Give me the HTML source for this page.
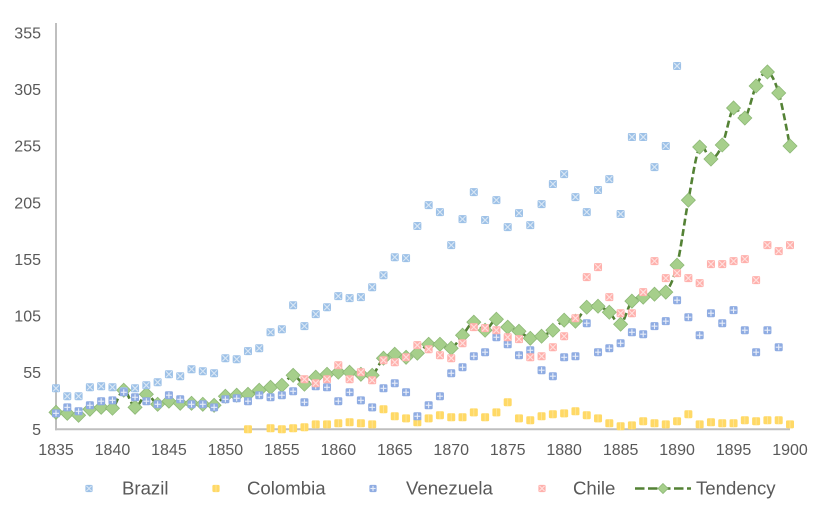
<!DOCTYPE html>
<html lang="en">
<head>
<meta charset="utf-8">
<title>Chart</title>
<style>
html,body{margin:0;padding:0;background:#fff;}
svg{display:block;}
text{font-family:"Liberation Sans",sans-serif;font-size:16px;fill:#595959;}
#legend text{font-size:18.6px;}
</style>
</head>
<body>
<svg id="chart" width="832" height="517" viewBox="0 0 832 517" xmlns="http://www.w3.org/2000/svg">
<rect x="0" y="0" width="832" height="517" fill="#ffffff"/>
<g id="axes"></g>
<g id="tendency-layer"></g>
<g id="points-layer"></g>
<g id="legend">
<text x="122" y="494.5">Brazil</text>
<text x="247" y="494.5">Colombia</text>
<text x="406" y="494.5">Venezuela</text>
<text x="573" y="494.5">Chile</text>
<text x="696" y="494.5">Tendency</text>
<line x1="635" y1="488.5" x2="691" y2="488.5" stroke="#548235" stroke-width="2.4" stroke-dasharray="9.5,3.5"/>
</g>
</svg>
<script>
const firstYear = 1835;
const lastYear = 1900;
const yTicks = [5, 55, 105, 155, 205, 255, 305, 355];
const xTicks = [1835, 1840, 1845, 1850, 1855, 1860, 1865, 1870, 1875, 1880, 1885, 1890, 1895, 1900];

// Brazil: 1835 to 1890
const brazilStart = 1835;
const brazil = [41.2,34.2,34.2,42.1,43,42.1,38.6,41.2,43.9,46.5,53.6,51.9,58,56.3,54.5,67.8,66.9,74,76.6,90.7,93.4,114.6,96.1,106.7,112.8,122.6,120.8,121.7,130.5,141.1,157,156.2,184.5,203,196.8,167.7,190.6,214.5,189.8,207.4,183.6,195.9,185.3,203.9,221.6,230.4,210.1,196.8,216.3,226,195.1,263.1,263.1,236.6,255.2,325.9];

// Colombia: 1852 to 1900 (1853 missing)
const colombiaStart = 1852;
const colombia = [5,null,5.9,5,5.9,6.8,9.4,9.4,10.3,11.2,10.3,9.4,22.7,16.5,14.7,11.2,14.7,17.4,15.6,15.6,20,15.6,20,28.9,14.7,13,16.5,18.3,19.1,20.9,17.4,14.7,10.3,7.7,8.5,12.1,10.3,9.4,12.1,18.3,9.4,11.2,10.3,10.3,13,12.1,13,13,9.4];

// Venezuela: 1835 to 1899
const venezuelaStart = 1835;
const venezuela = [19.1,24.4,20.9,26.2,29.8,30.6,37.7,33.3,29.8,27.1,35.1,31.5,27.1,27.1,24.4,31.5,32.4,29.8,35.1,33.3,35.1,38.6,28.9,43,42.1,29.8,37.7,30.6,24.4,41.2,45.7,37.7,16.5,26.2,34.2,54.5,59.8,69.5,73.1,86.3,80.1,70.4,74.8,57.2,51.9,68.6,69.5,98.7,73.1,76.6,81,90.7,89,96.1,100.5,119,104,88.1,107.5,98.7,110.2,92.5,73.1,92.5,77.5];

// Chile: 1857 to 1900
const chileStart = 1857;
const chile = [49.2,45.7,49.2,61.6,49.2,55.4,48.3,66,64.2,68.6,79.3,75.7,70.4,67.8,81,95.2,94.3,92.5,86.3,84.6,68.6,69.5,77.5,87.2,103.1,139.4,148.2,121.7,107.5,107.5,126.1,153.5,138.5,142.9,138.5,134.1,150.9,150.9,153.5,155.3,136.7,167.7,162.4,167.7];

// Tendency: 1835 to 1900
const tendencyStart = 1835;
const tendency = [20,19.1,17.4,22.7,24.4,23.6,39.5,24.4,35.9,27.1,29.8,28,28,27.1,26.2,34.2,35.1,35.9,39.5,42.1,43.9,52.7,44.8,51,53.6,55.4,55.4,53.6,52.7,67.8,71.3,68.6,72.2,80.1,80.1,76.6,88.1,99.6,92.5,102.2,95.2,91.6,85.4,87.2,92.5,101.4,100.5,112.8,113.7,108.4,97.8,118.2,121.7,124.3,126.1,150,207.4,254.3,243.7,256.1,288.8,279.9,308.2,320.6,302,255.2];

const NS = 'http://www.w3.org/2000/svg';
const xLeft = 56, xRight = 790, yBottom = 429.3, yTop = 33;
function xScale(year) { return xLeft + (year - firstYear) * (xRight - xLeft) / (lastYear - firstYear); }
function yScale(v) { return yBottom - (v - 5) * (yBottom - yTop) / 350; }
function svgEl(tag, attrs, parent) {
  const el = document.createElementNS(NS, tag);
  for (const k in attrs) el.setAttribute(k, attrs[k]);
  parent.appendChild(el);
  return el;
}

const axes = document.getElementById('axes');
const yAxisLine = svgEl('line', {x1: xLeft, y1: 23, x2: xLeft, y2: yBottom + 1, stroke: '#BFBFBF', 'stroke-width': 2}, axes);


const xAxisLine = svgEl('line', {x1: xLeft - 1, y1: yBottom, x2: xRight, y2: yBottom, stroke: '#BFBFBF', 'stroke-width': 2}, axes);



yTicks.forEach(function (t) {
  const label = svgEl('text', {x: 41, y: yScale(t) + 5.5, 'text-anchor': 'end'}, axes);
  label.textContent = t;
  
  
});
xTicks.forEach(function (t) {
  const label = svgEl('text', {x: xScale(t), y: 455, 'text-anchor': 'middle'}, axes);
  label.textContent = t;
  
  
});

const styles = {
  brazil: {fill: '#9DC1E7', mark: 'x', line: '#D9E7F5'},
  colombia: {fill: '#FFD966', mark: 'bar', line: '#FFE79C'},
  venezuela: {fill: '#8FACE2', mark: 'plus', line: '#E9EEF9'},
  chile: {fill: '#FFB0AC', mark: 'x', line: '#FFE0DE'}
};

function drawMarker(parent, kind, cx, cy, half) {
  const s = styles[kind];
  const a = half - 1;
  const g = svgEl('g', {transform: 'translate(' + cx + ',' + cy + ')'}, parent);
  svgEl('rect', {x: -half, y: -half, width: 2 * half, height: 2 * half, rx: 1.2, fill: s.fill}, g);
  const lw = {stroke: s.line, 'stroke-width': 1.1};
  if (s.mark === 'x') {
    svgEl('line', Object.assign({x1: -a, y1: -a, x2: a, y2: a}, lw), g);
    svgEl('line', Object.assign({x1: -a, y1: a, x2: a, y2: -a}, lw), g);
  } else if (s.mark === 'plus') {
    svgEl('line', Object.assign({x1: -a, y1: 0, x2: a, y2: 0}, lw), g);
    svgEl('line', Object.assign({x1: 0, y1: -a, x2: 0, y2: a}, lw), g);
  } else {
    svgEl('line', {x1: 0, y1: -half, x2: 0, y2: half, stroke: s.line, 'stroke-width': 0.8}, g);
  }
  return g;
}

function drawDiamond(parent, cx, cy, r) {
  return svgEl('polygon', {
    points: cx + ',' + (cy - r) + ' ' + (cx + r) + ',' + cy + ' ' + cx + ',' + (cy + r) + ' ' + (cx - r) + ',' + cy,
    fill: '#A6CF8B', stroke: '#8DB876', 'stroke-width': 0.8
  }, parent);
}

// Tendency smoothed line and diamonds
const tendencyLayer = document.getElementById('tendency-layer');
const tendencyPts = tendency.map(function (v, i) { return [xScale(tendencyStart + i), yScale(v)]; });
let tendencyPath = 'M' + tendencyPts[0][0] + ' ' + tendencyPts[0][1];
for (let i = 0; i < tendencyPts.length - 1; i++) {
  const p0 = tendencyPts[Math.max(i - 1, 0)];
  const p1 = tendencyPts[i];
  const p2 = tendencyPts[i + 1];
  const p3 = tendencyPts[Math.min(i + 2, tendencyPts.length - 1)];
  tendencyPath += ' C' + (p1[0] + (p2[0] - p0[0]) / 6) + ' ' + (p1[1] + (p2[1] - p0[1]) / 6) + ' ' +
    (p2[0] - (p3[0] - p1[0]) / 6) + ' ' + (p2[1] - (p3[1] - p1[1]) / 6) + ' ' + p2[0] + ' ' + p2[1];
}
const tendencyLine = svgEl('path', {d: tendencyPath, fill: 'none', stroke: '#548235', 'stroke-width': 2.6, 'stroke-dasharray': '7,3.5'}, tendencyLayer);


tendencyPts.forEach(function (p) {
  const d = drawDiamond(tendencyLayer, p[0], p[1], 7);
  
  
});

// Country scatter points
const pointsLayer = document.getElementById('points-layer');
brazil.forEach(function (v, i) {
  if (v === null) return;
  const m = drawMarker(pointsLayer, 'brazil', xScale(brazilStart + i), yScale(v), 4);
  
  
});
colombia.forEach(function (v, i) {
  if (v === null) return;
  const m = drawMarker(pointsLayer, 'colombia', xScale(colombiaStart + i), yScale(v), 4);
  
  
});
venezuela.forEach(function (v, i) {
  if (v === null) return;
  const m = drawMarker(pointsLayer, 'venezuela', xScale(venezuelaStart + i), yScale(v), 4);
  
  
});
chile.forEach(function (v, i) {
  if (v === null) return;
  const m = drawMarker(pointsLayer, 'chile', xScale(chileStart + i), yScale(v), 4);
  
  
});

// Legend markers
const legend = document.getElementById('legend');
const legendBrazil = drawMarker(legend, 'brazil', 89, 488.5, 3.6);


const legendColombia = drawMarker(legend, 'colombia', 216, 488.5, 3.6);


const legendVenezuela = drawMarker(legend, 'venezuela', 373, 488.5, 3.6);


const legendChile = drawMarker(legend, 'chile', 542, 488.5, 3.6);


const legendTendency = drawDiamond(legend, 663, 488.5, 5);


</script>
</body>
</html>
